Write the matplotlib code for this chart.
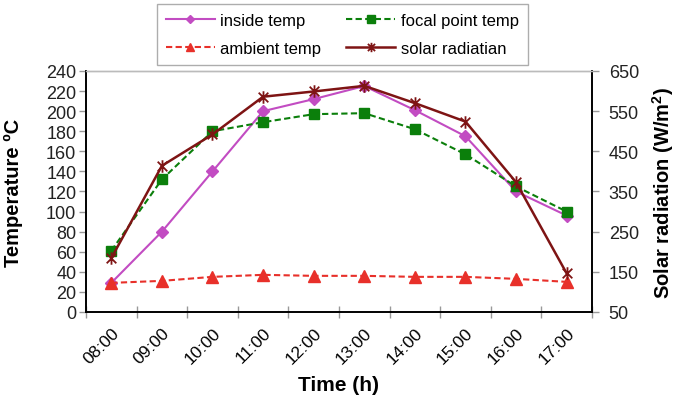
import matplotlib
matplotlib.use("Agg")
import matplotlib.pyplot as plt
from matplotlib.path import Path
import numpy as np

plt.rcParams['font.family'] = ['Liberation Sans', 'DejaVu Sans']
plt.rcParams['mathtext.fontset'] = 'custom'
plt.rcParams['mathtext.rm'] = 'Liberation Sans'
plt.rcParams['mathtext.bf'] = 'Liberation Sans:bold'

# Hourly readings
hours = ["08:00", "09:00", "10:00", "11:00", "12:00",
         "13:00", "14:00", "15:00", "16:00", "17:00"]
inside_temp = [29, 80, 140, 200, 212, 225, 201, 175, 120, 96]
focal_temp = [61, 132, 180, 189, 197, 198, 182, 157, 125, 100]
ambient_temp = [29, 31, 35, 37, 36, 36, 35, 35, 33, 30]
solar_rad = [184, 414, 492, 586, 599, 613, 570, 524, 373, 146]

temp_ticks = list(range(0, 241, 20))
rad_ticks = list(range(50, 651, 100))

# Star marker: an X crossed by a vertical stroke
star = Path([(-1, -1), (1, 1), (-1, 1), (1, -1), (0, -1.3), (0, 1.3)],
            [Path.MOVETO, Path.LINETO, Path.MOVETO, Path.LINETO,
             Path.MOVETO, Path.LINETO])

fig = plt.figure(figsize=(6.75, 4.02), dpi=100)
ax = fig.add_axes([0.1274, 0.2214, 0.7496, 0.5995])
ax2 = ax.twinx()

x = np.arange(len(hours))
c_in = "#C24CC2"
c_focal = "#0B7F0B"
c_amb = "#E8302A"
c_sol = "#7E1414"

l1, = ax.plot(x, inside_temp, color=c_in, lw=1.5, marker="D", ms=6,
              label="inside temp", zorder=3)
l2, = ax.plot(x, focal_temp, color=c_focal, lw=1.5, ls=(0, (3, 1.6)),
              marker="s", ms=7.5, label="focal point temp", zorder=3)
l3, = ax.plot(x, ambient_temp, color=c_amb, lw=1.5, ls=(0, (3, 1.6)),
              marker="^", ms=8, label="ambient temp", zorder=3)
l4, = ax2.plot(x, solar_rad, color=c_sol, lw=1.8, marker=star, ms=9,
               mew=1.3, label="solar radiatian", zorder=3)

ax.set_xlim(-0.5, len(hours) - 0.5)
ax.set_ylim(0, 240)
ax.set_yticks(temp_ticks)
ax2.set_ylim(50, 650)
ax2.set_yticks(rad_ticks)

# Category boundaries carry the tick marks, centres carry the labels
ax.set_xticks(np.arange(-0.5, len(hours), 1.0))
ax.set_xticklabels([])
ax.set_xticks(x, minor=True)
ax.set_xticklabels(hours, minor=True, rotation=45, ha="right",
                   rotation_mode="anchor", fontsize=12.5)
ax.tick_params(axis="x", which="minor", length=0, pad=9)
ax.tick_params(axis="x", which="major", direction="inout", length=9,
               color="#999999", width=1)
ax.tick_params(axis="y", labelsize=13, length=5, color="#999999",
               width=1, pad=2)
ax2.tick_params(axis="y", labelsize=13, length=5, color="#999999",
                width=1, pad=7)
for t in ax.get_yticklabels() + ax2.get_yticklabels():
    t.set_color("#222222")

for a in (ax, ax2):
    a.spines["top"].set_color("#bbbbbb")
    a.spines["top"].set_linestyle((0, (1, 1)))
    a.spines["top"].set_linewidth(1)
    for s in ("left", "right", "bottom"):
        a.spines[s].set_color("black")
        a.spines[s].set_linewidth(1.2)

ax.set_xlabel("Time (h)", fontsize=15, fontweight="bold")
ax.xaxis.set_label_coords(0.5, -0.262)
ax.set_ylabel("Temperature \u00baC", fontsize=14.5, fontweight="bold")
ax.yaxis.set_label_coords(-0.1245, 0.5)
ax2.set_ylabel(r"Solar radiation (W/m$\mathbf{^2}$)", fontsize=14.5,
               fontweight="bold")
ax2.yaxis.set_label_coords(1.114, 0.5)

# Row-wise order: matplotlib fills legend columns top to bottom
leg = fig.legend([l1, l3, l2, l4],
                 ["inside temp", "ambient temp", "focal point temp",
                  "solar radiatian"],
                 ncol=2, loc="upper left", bbox_to_anchor=(0.2326, 0.9876),
                 fontsize=12, frameon=True, fancybox=False,
                 edgecolor="#999999", handlelength=2.9,
                 columnspacing=1.5, borderpad=0.55, labelspacing=0.75,
                 handletextpad=0.35, markerscale=0.75,
                 borderaxespad=0)
leg.get_frame().set_linewidth(1.0)

fig.savefig("out.png", dpi=100)
